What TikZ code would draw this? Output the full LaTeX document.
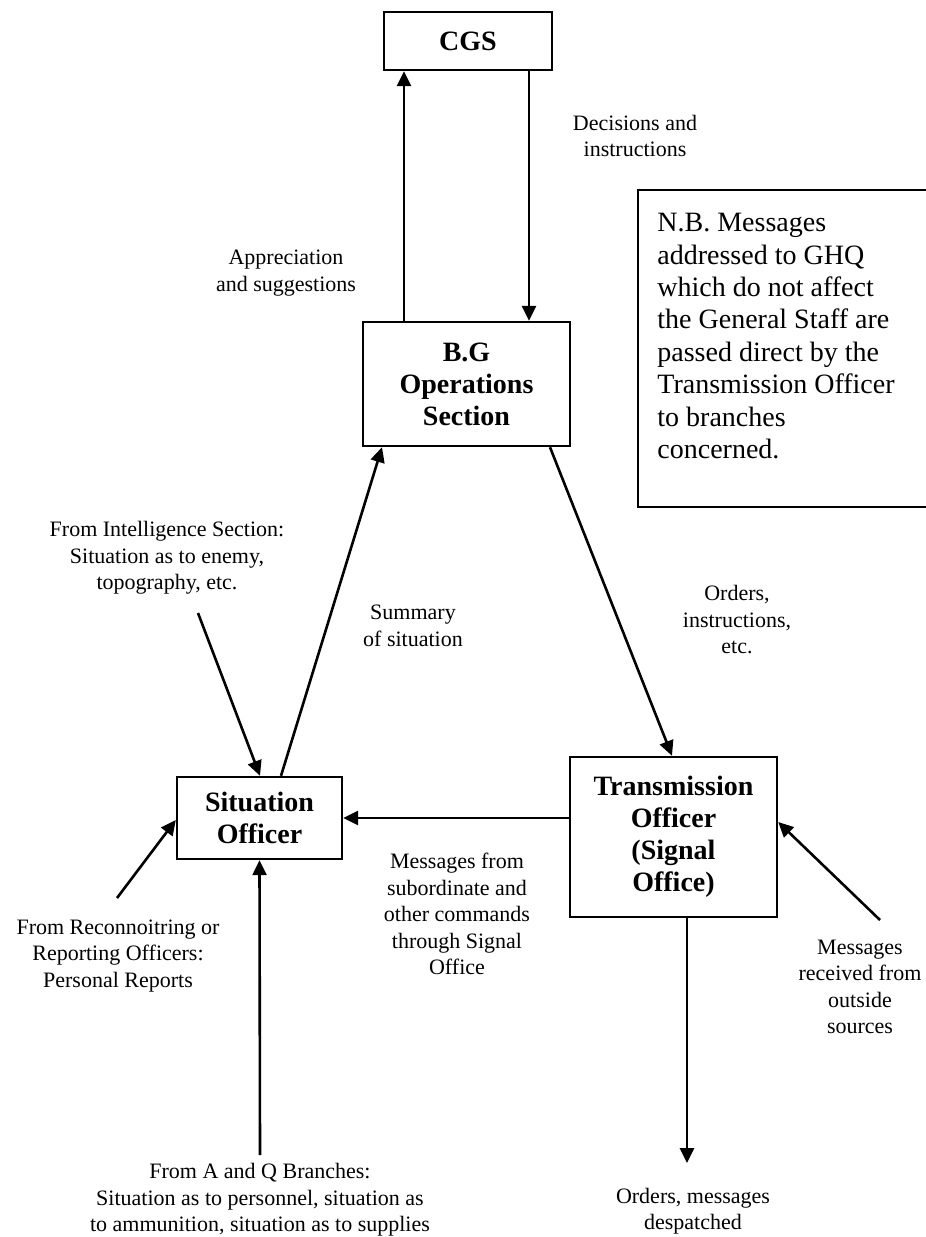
\documentclass[tikz,border=0pt]{standalone}
\usepackage{fontspec}
\setmainfont{Liberation Serif}
\usetikzlibrary{arrows.meta}
\begin{document}
\begin{tikzpicture}[x=0.5pt,y=-0.5pt,
  box/.style={draw, line width=1.2pt, inner sep=0pt, align=center,
    font=\fontsize{14}{16}\selectfont\bfseries},
  lbl/.style={align=center, inner sep=0pt, font=\fontsize{11}{13.25}\selectfont},
  arr/.style={line width=1.3pt, -{Triangle[length=7.5pt,width=7pt]}}]
\useasboundingbox (0,0) rectangle (926,1237);

% boxes
\node[box, minimum width=84pt, minimum height=29pt] (cgs) at (468,41) {CGS};
\node[box, minimum width=103.5pt, minimum height=62pt] (bg) at (466.5,384) {B.G\\Operations\\Section};
\node[box, minimum width=82.5pt, minimum height=41pt] (so) at (259.5,818) {Situation\\Officer};
\node[box, minimum width=103.5pt, minimum height=80pt] (to) at (673.5,837) {Transmission\\Officer\\(Signal\\Office)};

% note
\node[anchor=north west, align=left, inner sep=0pt,
  font=\fontsize{14}{16.2}\selectfont] (nb) at (657,213)
  {N.B. Messages\\addressed to GHQ\\which do not affect\\the General Staff are\\passed direct by the\\Transmission Officer\\to branches\\concerned.};
\draw[line width=1.2pt] (926,190) -- (638,190) -- (638,507) -- (926,507);

% labels
\node[lbl] (ldec) at (635,136) {Decisions and\\instructions};
\node[lbl] (lapp) at (286,273) {Appreciation\\and suggestions};
\node[lbl] (lsum) at (413,626) {Summary\\of situation};
\node[lbl] (lint) at (167,558) {From Intelligence Section:\\Situation as to enemy,\\topography, etc.};
\node[lbl] (lrec) at (118,956) {From Reconnoitring or\\Reporting Officers:\\Personal Reports};
\node[lbl] (laq) at (260,1200) {From A and Q Branches:\\Situation as to personnel, situation as\\to ammunition, situation as to supplies};
\node[lbl] (lmsg) at (457,914) {Messages from\\subordinate and\\other commands\\through Signal\\Office};
\node[lbl] (lord) at (737,620) {Orders,\\instructions,\\etc.};
\node[lbl] (lout) at (860,987) {Messages\\received from\\outside\\sources};
\node[lbl] (ldes) at (693,1211) {Orders, messages\\despatched};

% helper coordinates
\coordinate (xup) at (404,0);
\coordinate (xdn) at (529,0);
\coordinate (xs1) at (281,0);
\coordinate (xb1) at (382,0);
\coordinate (xb2) at (550,0);
\coordinate (xt1) at (672,0);
\coordinate (xs2) at (260,0);
\coordinate (xt2) at (687,0);
\coordinate (yh) at (0,818);
\coordinate (yr) at (0,820);
\coordinate (yo) at (0,822);
\coordinate (tint) at (198,613);
\coordinate (trec) at (117,898);
\coordinate (taq) at (260,1155);
\coordinate (tout) at (880,920);
\coordinate (hdes) at (687,1163);

% connectors
\draw[arr] (bg.north -| xup) -- (cgs.south -| xup);
\draw[arr] (cgs.south -| xdn) -- (bg.north -| xdn);
\draw[arr] (so.north -| xs1) -- (bg.south -| xb1);
\draw[arr] (bg.south -| xb2) -- (to.north -| xt1);
\draw[arr] (tint) -- (so.north -| xs2);
\draw[arr] (trec) -- (so.west |- yr);
\draw[arr] (taq) -- (so.south);
\draw[arr] (to.west |- yh) -- (so.east |- yh);
\draw[arr] (tout) -- (to.east |- yo);
\draw[arr] (to.south -| xt2) -- (hdes);
\end{tikzpicture}
\end{document}
